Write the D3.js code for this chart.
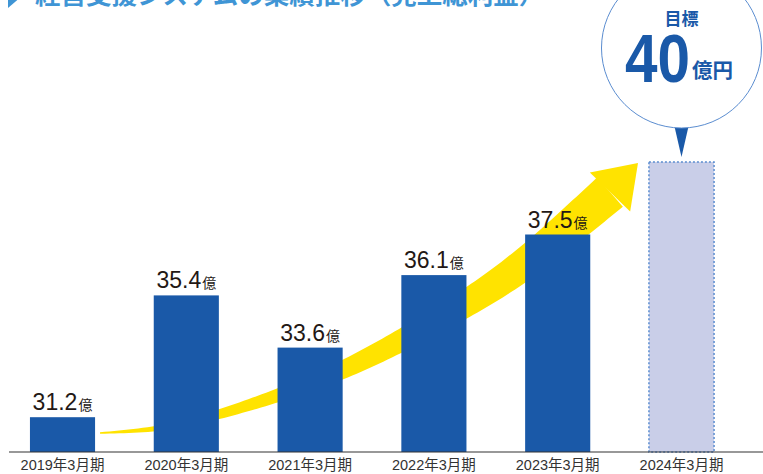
<!DOCTYPE html>
<html>
<head>
<meta charset="utf-8">
<script src="https://cdn.jsdelivr.net/npm/d3@7"></script>
<style>
  body { margin: 0; background: #fff; }
  svg { display: block; }
</style>
</head>
<body>
<div id="chart"></div>
<script>
// Data
const years = ["2019年3月期", "2020年3月期", "2021年3月期", "2022年3月期", "2023年3月期", "2024年3月期"];
const values = [31.2, 35.4, 33.6, 36.1, 37.5, 40];
const isTarget = [false, false, false, false, false, true];
const valueLabels = ["31.2", "35.4", "33.6", "36.1", "37.5", null];
const targetLabel = "40";

const width = 763, height = 474;
const baseY = 452;

const svg = d3.select("#chart")
  .append("svg")
  .attr("width", width)
  .attr("height", height);

const font = "'Liberation Sans', Arial, 'Noto Sans CJK JP', sans-serif";
const blue = "#1a59a8";

// Title (cut off at the top in the original)
svg.append("polygon")
  .attr("points", "8,-16 8,8 22,-4")
  .attr("fill", "#3f95d5");
svg.append("text")
  .attr("x", 35)
  .attr("y", 4)
  .style("font-family", "'Noto Sans CJK JP', sans-serif")
  .style("font-size", "25.5px")
  .style("font-weight", "bold")
  .style("fill", "#3f95d5")
  .text("経営支援システムの業績推移（売上総利益）");

// Scales
const x = d3.scaleBand()
  .domain(years)
  .range([-1, 745])
  .paddingInner(0.474)
  .paddingOuter(0.25);

const y = d3.scaleLinear()
  .domain([30, 40])
  .range([baseY, 162]);

// Yellow growth arrow (behind the bars)
const centerPts = [[100, 433], [160, 428], [220, 414], [340, 371], [470, 301], [532, 258], [610, 192]];
const tmp = svg.append("path")
  .attr("d", d3.line().curve(d3.curveCatmullRom)(centerPts))
  .attr("fill", "none");
const len = tmp.node().getTotalLength();
const N = 120;
const pts = d3.range(N + 1).map(i => tmp.node().getPointAtLength(len * i / N));
const leftSide = [], rightSide = [];
pts.forEach((p, i) => {
  const a = pts[Math.max(0, i - 1)], b = pts[Math.min(N, i + 1)];
  let dx = b.x - a.x, dy = b.y - a.y;
  const m = Math.hypot(dx, dy);
  dx /= m; dy /= m;
  const t = i / N;
  const hw = 0.8 + 18.7 * t;
  leftSide.push([p.x + dy * hw, p.y - dx * hw]);
  rightSide.push([p.x - dy * hw, p.y + dx * hw]);
});
tmp.remove();
svg.append("polygon")
  .attr("points", leftSide.concat(rightSide.reverse()).map(p => p.join(",")).join(" "))
  .attr("fill", "#ffe300");

// arrow head
const end = pts[N], tip = [638, 163];
let hx = tip[0] - end.x, hy = tip[1] - end.y;
const hm = Math.hypot(hx, hy);
hx /= hm; hy /= hm;
const headHalf = 28;
svg.append("polygon")
  .attr("points", [
    [end.x + hy * headHalf, end.y - hx * headHalf],
    tip,
    [end.x - hy * headHalf, end.y + hx * headHalf]
  ].map(p => p.join(",")).join(" "))
  .attr("fill", "#ffe300");

// Bars
svg.selectAll("rect.bar")
  .data(years)
  .join("rect")
  .attr("class", "bar")
  .attr("x", d => x(d))
  .attr("width", x.bandwidth())
  .attr("y", (d, i) => y(values[i]))
  .attr("height", (d, i) => baseY - y(values[i]))
  .attr("fill", (d, i) => isTarget[i] ? "#c9cee8" : blue)
  .attr("stroke", (d, i) => isTarget[i] ? "#5b8dd0" : "none")
  .attr("stroke-width", 1.5)
  .attr("stroke-dasharray", (d, i) => isTarget[i] ? "2,2" : null);

// Value labels
const labels = svg.selectAll("text.val")
  .data(years.filter((d, i) => valueLabels[i] !== null))
  .join("text")
  .attr("class", "val")
  .attr("x", d => x(d) + x.bandwidth() / 2)
  .attr("y", d => y(values[years.indexOf(d)]) - 7)
  .attr("text-anchor", "middle")
  .style("font-family", font)
  .style("fill", "#231815");
labels.append("tspan")
  .style("font-size", "23px")
  .text(d => valueLabels[years.indexOf(d)]);
labels.append("tspan")
  .style("font-size", "14px")
  .style("font-family", "'Noto Sans CJK JP', sans-serif")
  .attr("dx", 1)
  .text("億");

// Axis
const xAxis = svg.append("g")
  .attr("transform", `translate(0,${baseY})`)
  .call(d3.axisBottom(x).tickSize(0).tickPadding(8));
xAxis.select(".domain").remove();
xAxis.selectAll("text")
  .style("font-family", font)
  .style("font-size", "14.5px")
  .style("fill", "#333");
svg.append("line")
  .attr("x1", 9).attr("x2", width)
  .attr("y1", baseY).attr("y2", baseY)
  .attr("stroke", "#333")
  .attr("stroke-width", 1.2);

// Target callout
const cx = x(years[5]) + x.bandwidth() / 2;
const targetTop = y(values[5]);
svg.append("polygon")
  .attr("points", `${cx - 8.5},120 ${cx + 8.5},120 ${cx},${targetTop - 5}`)
  .attr("fill", blue);
svg.append("circle")
  .attr("cx", cx)
  .attr("cy", 48)
  .attr("r", 80)
  .attr("fill", "#fff")
  .attr("stroke", "#5b8dd0")
  .attr("stroke-width", 1);
svg.append("text")
  .attr("x", cx)
  .attr("y", 25)
  .attr("text-anchor", "middle")
  .style("font-family", "'Noto Sans CJK JP', sans-serif")
  .style("font-size", "17px")
  .style("font-weight", "bold")
  .style("fill", blue)
  .text("目標");
svg.append("text")
  .attr("x", 625)
  .attr("y", 82)
  .attr("textLength", 65)
  .attr("lengthAdjust", "spacingAndGlyphs")
  .style("font-family", font)
  .style("font-size", "68px")
  .style("font-weight", "bold")
  .style("fill", blue)
  .text(targetLabel);
svg.append("text")
  .attr("x", 692)
  .attr("y", 78)
  .style("font-family", "'Noto Sans CJK JP', sans-serif")
  .style("font-size", "20.5px")
  .style("font-weight", "bold")
  .style("fill", blue)
  .text("億円");
</script>
</body>
</html>
